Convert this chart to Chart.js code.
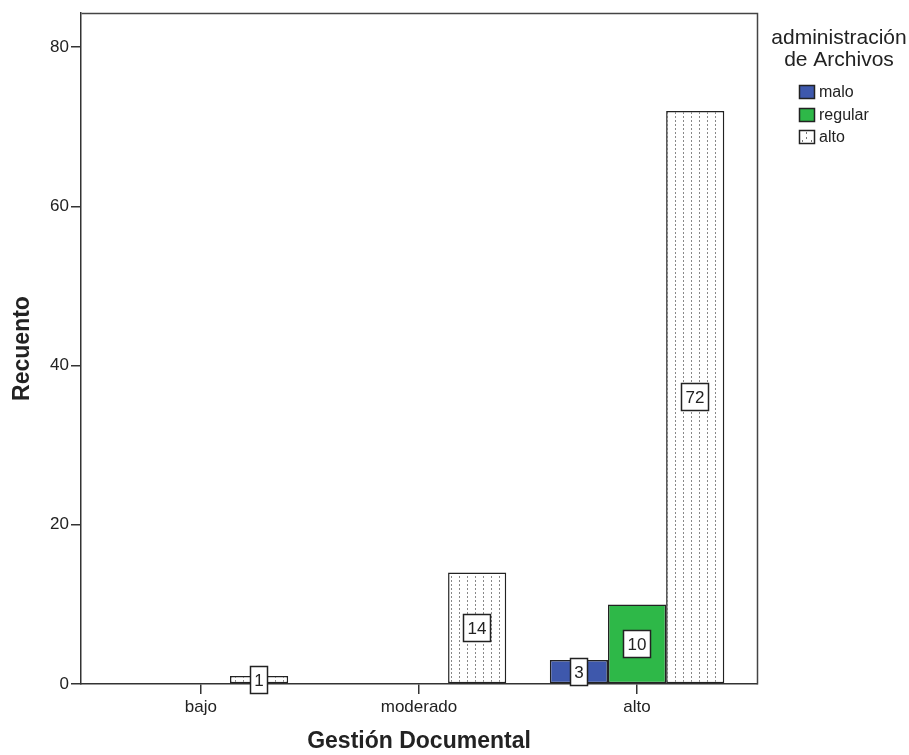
<!DOCTYPE html>
<html>
<head>
<meta charset="utf-8">
<title>Gestión Documental</title>
<script src="https://cdn.jsdelivr.net/npm/chart.js"></script>
<style>
  html, body { margin: 0; padding: 0; background: #fff; }
  #wrap { width: 909px; height: 755px; }
</style>
</head>
<body>
<div id="wrap"><canvas id="chart" width="909" height="755"></canvas></div>
<script>
var CATEGORIES = ["bajo", "moderado", "alto"];
var SERIES_NAMES = ["malo", "regular", "alto"];
var MALO = [0, 0, 3];
var REGULAR = [0, 0, 10];
var ALTO = [1, 14, 72];
var Y_TICKS = [0, 20, 40, 60, 80];
var LEGEND_TITLE = ["administración", "de Archivos"];
var X_TITLE = "Gestión Documental";
var Y_TITLE = "Recuento";

(function () {
  var FONT = "'Liberation Sans', Arial, sans-serif";
  var INK = "#222";

  function dotPattern() {
    var c = document.createElement("canvas");
    c.width = 8;
    c.height = 4;
    var g = c.getContext("2d");
    g.fillStyle = "#fff";
    g.fillRect(0, 0, 8, 4);
    g.fillStyle = "#888";
    g.fillRect(3, 0, 1, 2);
    return g.createPattern(c, "repeat");
  }

  function points(arr) {
    return arr.map(function (v, i) {
      return { x: i, y: v };
    });
  }

  var FILLS = ["#3e58ac", "#2eb848", dotPattern()];
  var LEGEND_SWATCH = ["#3e58ac", "#2eb848", null];

  var valueLabels = {
    id: "valueLabels",
    afterDatasetsDraw: function (chart) {
      var ctx = chart.ctx;
      ctx.save();
      ctx.font = "17px " + FONT;
      ctx.textAlign = "center";
      ctx.textBaseline = "middle";
      chart.data.datasets.forEach(function (ds, di) {
        var meta = chart.getDatasetMeta(di);
        meta.data.forEach(function (bar, i) {
          var v = ds.data[i].y;
          if (!v) return;
          var txt = String(v);
          var w = Math.round(ctx.measureText(txt).width) + 9;
          var h = 28;
          var cx = Math.round(bar.x);
          var cy = Math.round((bar.y + bar.base) / 2);
          var x0 = cx - Math.round(w / 2);
          var y0 = cy - h / 2;
          ctx.fillStyle = "#fff";
          ctx.fillRect(x0, y0, w, h);
          ctx.strokeStyle = "#222";
          ctx.lineWidth = 1.5;
          ctx.strokeRect(x0 + 0.5, y0 + 0.5, w - 1, h - 1);
          ctx.fillStyle = INK;
          ctx.fillText(txt, cx, cy + 1);
        });
      });
      ctx.restore();
    },
  };

  var frameAndLegend = {
    id: "frameAndLegend",
    afterDraw: function (chart) {
      var ctx = chart.ctx;
      var a = chart.chartArea;
      ctx.save();
      ctx.strokeStyle = "#444";
      ctx.lineWidth = 1.5;
      ctx.beginPath();
      ctx.moveTo(Math.round(a.left) + 0.5, Math.round(a.top) + 0.5);
      ctx.lineTo(Math.round(a.right) + 0.5, Math.round(a.top) + 0.5);
      ctx.lineTo(Math.round(a.right) + 0.5, Math.round(a.bottom) + 0.5);
      ctx.stroke();

      // legend
      ctx.fillStyle = INK;
      ctx.font = "21px " + FONT;
      ctx.textAlign = "center";
      ctx.textBaseline = "middle";
      LEGEND_TITLE.forEach(function (t, i) {
        ctx.fillText(t, 839, 38 + i * 22);
      });
      ctx.font = "16px " + FONT;
      ctx.textAlign = "left";
      SERIES_NAMES.forEach(function (name, i) {
        var y = 92 + i * 22.5;
        var bx = 799, by = Math.round(y - 7);
        ctx.fillStyle = LEGEND_SWATCH[i] || "#fff";
        ctx.fillRect(bx, by, 16, 14);
        if (!LEGEND_SWATCH[i]) {
          ctx.fillStyle = "#777";
          ctx.fillRect(bx + 7, by + 2, 1, 2);
          ctx.fillRect(bx + 7, by + 7, 1, 2);
          ctx.fillRect(bx + 3, by + 10, 1, 2);
          ctx.fillRect(bx + 12, by + 10, 1, 2);
        }
        ctx.strokeStyle = "#222";
        ctx.lineWidth = 1.5;
        ctx.strokeRect(bx + 0.5, by + 0.5, 15, 13);
        ctx.fillStyle = INK;
        ctx.fillText(name, 819, y + 1);
      });
      ctx.restore();
    },
  };

  var series = [MALO, REGULAR, ALTO];
  var datasets = series.map(function (arr, i) {
    return {
      label: SERIES_NAMES[i],
      data: points(arr),
      backgroundColor: FILLS[i],
      borderColor: "#222",
      borderWidth: 1.5,
      borderSkipped: false,
      categoryPercentage: 0.8,
      barPercentage: 1.0,
    };
  });

  new Chart(document.getElementById("chart"), {
    type: "bar",
    data: { datasets: datasets },
    options: {
      responsive: false,
      animation: false,
      events: [],
      layout: { padding: { left: 0, right: 152, top: 13, bottom: 0 } },
      plugins: { legend: { display: false }, tooltip: { enabled: false } },
      scales: {
        x: {
          type: "linear",
          offset: false,
          min: -0.55,
          max: 2.55,
          afterBuildTicks: function (s) {
            s.ticks = CATEGORIES.map(function (_, i) {
              return { value: i };
            });
          },
          afterFit: function (s) {
            s.height = 71;
          },
          ticks: {
            autoSkip: false,
            maxRotation: 0,
            padding: 3,
            color: INK,
            font: { family: FONT, size: 17 },
            callback: function (v) {
              return CATEGORIES[v];
            },
          },
          grid: { offset: false, drawOnChartArea: false, drawTicks: true, tickLength: 10, color: "#333", lineWidth: 1.5 },
          border: { display: true, color: "#333", width: 1.5 },
          title: {
            display: true,
            text: X_TITLE,
            color: INK,
            font: { family: FONT, size: 23, weight: "bold" },
            padding: { top: 0, bottom: 0 },
          },
        },
        y: {
          type: "linear",
          min: 0,
          max: 84.3,
          afterBuildTicks: function (s) {
            s.ticks = Y_TICKS.map(function (v) {
              return { value: v };
            });
          },
          afterFit: function (s) {
            s.width = 81;
          },
          ticks: {
            padding: 2,
            color: INK,
            font: { family: FONT, size: 17 },
          },
          grid: { drawOnChartArea: false, drawTicks: true, tickLength: 10, color: "#333", lineWidth: 1.5 },
          border: { display: true, color: "#333", width: 1.5 },
          title: {
            display: true,
            text: Y_TITLE,
            color: INK,
            font: { family: FONT, size: 23, weight: "bold" },
            padding: { top: 9, bottom: 0 },
          },
        },
      },
    },
    plugins: [valueLabels, frameAndLegend],
  });
})();
</script>
</body>
</html>
